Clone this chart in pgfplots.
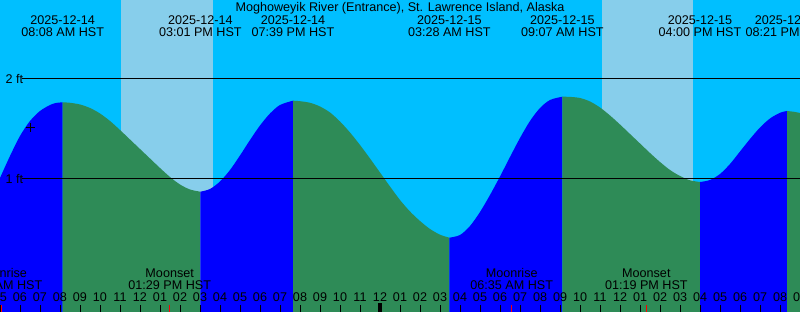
\documentclass[border=0pt]{standalone}
\usepackage{pgfplots}
\pgfplotsset{compat=1.18}
\usepackage{fontspec}
\setmainfont{Liberation Sans}
\newcommand\myfont{\fontsize{12.6pt}{15pt}\selectfont}
\definecolor{night}{RGB}{0,191,255}
\definecolor{day}{RGB}{135,206,235}
\definecolor{rise}{RGB}{0,0,255}
\definecolor{fall}{RGB}{46,139,87}
\begin{document}
\begin{tikzpicture}[font=\myfont]
\begin{axis}[
  at={(0,0)}, anchor=south west,
  scale only axis, width=800pt, height=312pt,
  xmin=5, xmax=45, ymin=-0.33, ymax=2.79,
  axis line style={draw=none},
  axis background/.style={fill=night},
  axis on top,
  ytick=\empty,
  xtick={5,...,45},
  xticklabels={05,06,07,08,09,10,11,12,01,02,03,04,05,06,07,08,09,10,11,12,01,02,03,04,05,06,07,08,09,10,11,12,01,02,03,04,05,06,07,08,09},
  xtick pos=left,
  tick align=inside,
  major tick length=7pt,
  tick style={black, line width=1pt},
  xticklabel style={font=\myfont, anchor=base, yshift=10pt, inner sep=0pt},
  extra x ticks={5.05,13.483,30.583,37.317},
  extra x tick labels={},
  extra x tick style={tick style={red, line width=1pt}},
  clip=true,
  every node/.append style={font=\myfont, inner sep=0pt},
]
% daylight
\addplot[fill=day, draw=none] coordinates {(11.033,-0.33) (11.033,2.79) (15.633,2.79) (15.633,-0.33)} -- cycle;
\addplot[fill=day, draw=none] coordinates {(35.083,-0.33) (35.083,2.79) (39.633,2.79) (39.633,-0.33)} -- cycle;
% rising 1
\addplot[fill=rise, draw=none, smooth] table {
5.0 1.01
5.5 1.23
6.0 1.43
6.5 1.58
7.0 1.68
7.5 1.74
7.8 1.76
8.133 1.767
} -- (axis cs:8.133,-0.33) -- (axis cs:5,-0.33) -- cycle;
% falling 1
\addplot[fill=fall, draw=none, smooth] table {
8.133 1.767
8.5 1.762
9.0 1.745
9.5 1.71
10.0 1.655
10.5 1.58
11.0 1.49
11.5 1.395
12.0 1.30
12.5 1.205
13.0 1.11
13.5 1.02
14.0 0.945
14.5 0.895
15.017 0.873
} -- (axis cs:15.017,-0.33) -- (axis cs:8.133,-0.33) -- cycle;
% rising 2
\addplot[fill=rise, draw=none, smooth] table {
15.017 0.873
15.5 0.90
16.0 0.975
16.5 1.09
17.0 1.235
17.5 1.39
18.0 1.535
18.5 1.655
19.0 1.74
19.65 1.783
} -- (axis cs:19.65,-0.33) -- (axis cs:15.017,-0.33) -- cycle;
% falling 2
\addplot[fill=fall, draw=none, smooth] table {
19.65 1.783
20.0 1.778
20.5 1.762
21.0 1.725
21.5 1.665
22.0 1.575
22.5 1.465
23.0 1.34
23.5 1.205
24.0 1.065
24.5 0.925
25.0 0.79
25.5 0.675
26.0 0.58
26.5 0.50
27.0 0.443
27.467 0.413
} -- (axis cs:27.467,-0.33) -- (axis cs:19.65,-0.33) -- cycle;
% rising 3
\addplot[fill=rise, draw=none, smooth] table {
27.467 0.413
28.0 0.44
28.5 0.53
29.0 0.67
29.5 0.84
30.0 1.025
30.5 1.22
31.0 1.41
31.5 1.58
32.0 1.71
32.5 1.79
33.117 1.823
} -- (axis cs:33.117,-0.33) -- (axis cs:27.467,-0.33) -- cycle;
% falling 3
\addplot[fill=fall, draw=none, smooth] table {
33.117 1.823
33.5 1.821
34.0 1.81
34.5 1.775
35.0 1.715
35.5 1.635
36.0 1.545
36.5 1.45
37.0 1.355
37.5 1.26
38.0 1.17
38.5 1.09
39.0 1.03
39.5 0.987
40.0 0.97
} -- (axis cs:40.0,-0.33) -- (axis cs:33.117,-0.33) -- cycle;
% rising 4
\addplot[fill=rise, draw=none, smooth] table {
40.0 0.97
40.5 0.99
41.0 1.05
41.5 1.15
42.0 1.275
42.5 1.40
43.0 1.515
43.5 1.605
44.0 1.662
44.35 1.68
} -- (axis cs:44.35,-0.33) -- (axis cs:40.0,-0.33) -- cycle;
% falling 4
\addplot[fill=fall, draw=none, smooth] table {
44.35 1.68
44.7 1.672
45.0 1.66
} -- (axis cs:45,-0.33) -- (axis cs:44.35,-0.33) -- cycle;
% reference lines
\addplot[black, line width=1pt] coordinates {(6.1,2) (45,2)};
\addplot[black, line width=1pt] coordinates {(6.1,1) (45,1)};
% now marker
\addplot[only marks, mark=+, mark size=4.5pt, black, line width=1pt] coordinates {(6.5,1.51)};
% texts
\node[anchor=west] at (axis cs:5.1,2) {2 ft};
\node[anchor=west] at (axis cs:5.1,1) {1 ft};
\node[anchor=base] at (axis cs:25,2.675) {Moghoweyik River (Entrance), St. Lawrence Island, Alaska};
\node[anchor=base] at (axis cs:8.133,2.54) {2025-12-14};
\node[anchor=base] at (axis cs:8.133,2.423) {08:08 AM HST};
\node[anchor=base] at (axis cs:15.017,2.54) {2025-12-14};
\node[anchor=base] at (axis cs:15.017,2.423) {03:01 PM HST};
\node[anchor=base] at (axis cs:19.65,2.54) {2025-12-14};
\node[anchor=base] at (axis cs:19.65,2.423) {07:39 PM HST};
\node[anchor=base] at (axis cs:27.467,2.54) {2025-12-15};
\node[anchor=base] at (axis cs:27.467,2.423) {03:28 AM HST};
\node[anchor=base] at (axis cs:33.117,2.54) {2025-12-15};
\node[anchor=base] at (axis cs:33.117,2.423) {09:07 AM HST};
\node[anchor=base] at (axis cs:40.0,2.54) {2025-12-15};
\node[anchor=base] at (axis cs:40.0,2.423) {04:00 PM HST};
\node[anchor=base] at (axis cs:44.35,2.54) {2025-12-15};
\node[anchor=base] at (axis cs:44.35,2.423) {08:21 PM HST};
\node[anchor=base] at (axis cs:5.05,0.01) {Moonrise};
\node[anchor=base] at (axis cs:5.05,-0.11) {05:03 AM HST};
\node[anchor=base] at (axis cs:13.483,0.01) {Moonset};
\node[anchor=base] at (axis cs:13.483,-0.11) {01:29 PM HST};
\node[anchor=base] at (axis cs:30.583,0.01) {Moonrise};
\node[anchor=base] at (axis cs:30.583,-0.11) {06:35 AM HST};
\node[anchor=base] at (axis cs:37.317,0.01) {Moonset};
\node[anchor=base] at (axis cs:37.317,-0.11) {01:19 PM HST};
\draw[black, line width=3.5pt] (axis cs:24,-0.33) -- (axis cs:24,-0.24);
\end{axis}
\pgfresetboundingbox
\path[use as bounding box] (0,0) rectangle (800pt,312pt);
\end{tikzpicture}
\end{document}
